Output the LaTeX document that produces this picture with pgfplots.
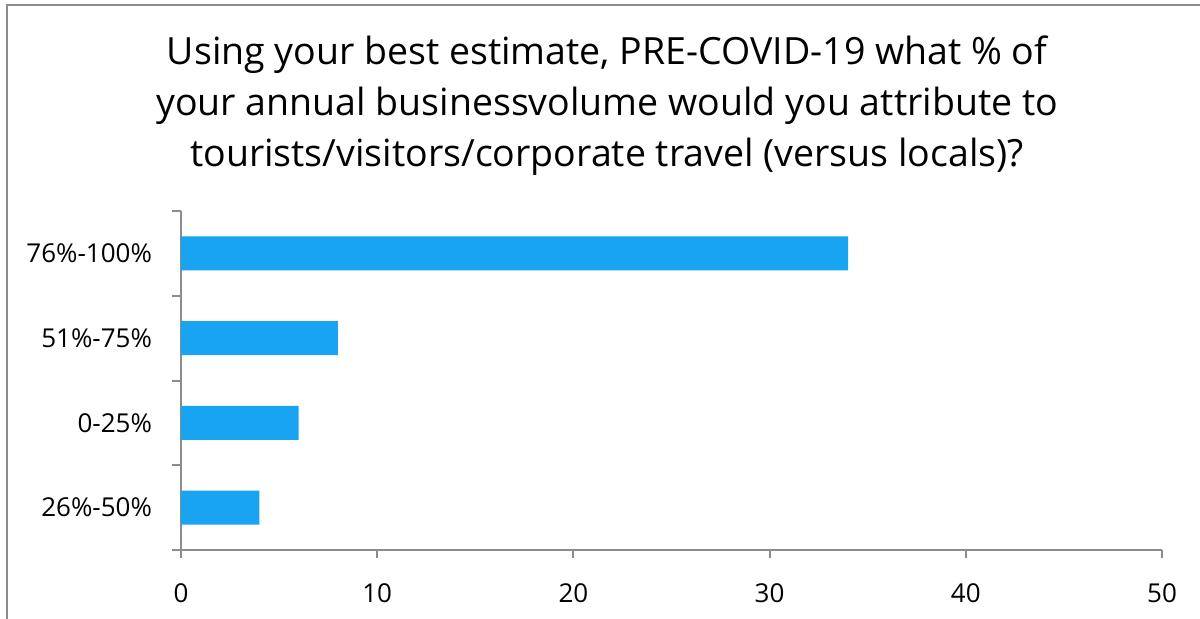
\documentclass[border=0pt]{standalone}
\usepackage{fontspec}
\setmainfont{Open Sans}
\usepackage{pgfplots}
\pgfplotsset{compat=1.18}
\definecolor{barblue}{RGB}{24,164,240}
\definecolor{axgray}{RGB}{140,140,140}
\begin{document}
\begin{tikzpicture}
\useasboundingbox (0,0) rectangle (600pt,-309.5pt);
\draw[axgray, line width=1pt] (3.5pt,-309.5pt) -- (3.5pt,-2.5pt) -- (600pt,-2.5pt);
\begin{scope}[every node/.style={font=\fontsize{18.75}{25.5}\selectfont, anchor=base, inner sep=0pt}]
\node at (303.5pt,-32.5pt) {Using your best estimate, PRE-COVID-19 what \% of};
\node at (303.5pt,-58pt) {your annual businessvolume would you attribute to};
\node at (303.5pt,-83.5pt) {tourists/visitors/corporate travel (versus locals)?};
\end{scope}
\begin{axis}[
  at={(90.5pt,-275pt)}, anchor=south west,
  scale only axis, width=490.5pt, height=169.5pt,
  xmin=0, xmax=50, ymin=-0.5, ymax=3.5,
  xbar, bar width=17pt,
  axis x line*=bottom, axis y line*=left,
  axis line style={axgray, line width=1pt, -},
  xtick={0,10,...,50},
  ytick={0,1,2,3},
  yticklabels={26\%-50\%,0-25\%,51\%-75\%,76\%-100\%},
  minor ytick={-0.5,0.5,1.5,2.5,3.5},
  tick align=outside,
  major tick length=4pt,
  minor tick length=4.5pt,
  tick style={axgray, line width=1pt},
  major y tick style={draw=none},
  ticklabel style={font=\fontsize{13}{15}\selectfont},
  /pgf/number format/assume math mode=true,
  yticklabel style={xshift=-7pt},
  xticklabel style={yshift=-9.5pt},
]
\addplot[fill=barblue, draw=none] coordinates {(4,0) (6,1) (8,2) (34,3)};
\end{axis}
\end{tikzpicture}
\end{document}
